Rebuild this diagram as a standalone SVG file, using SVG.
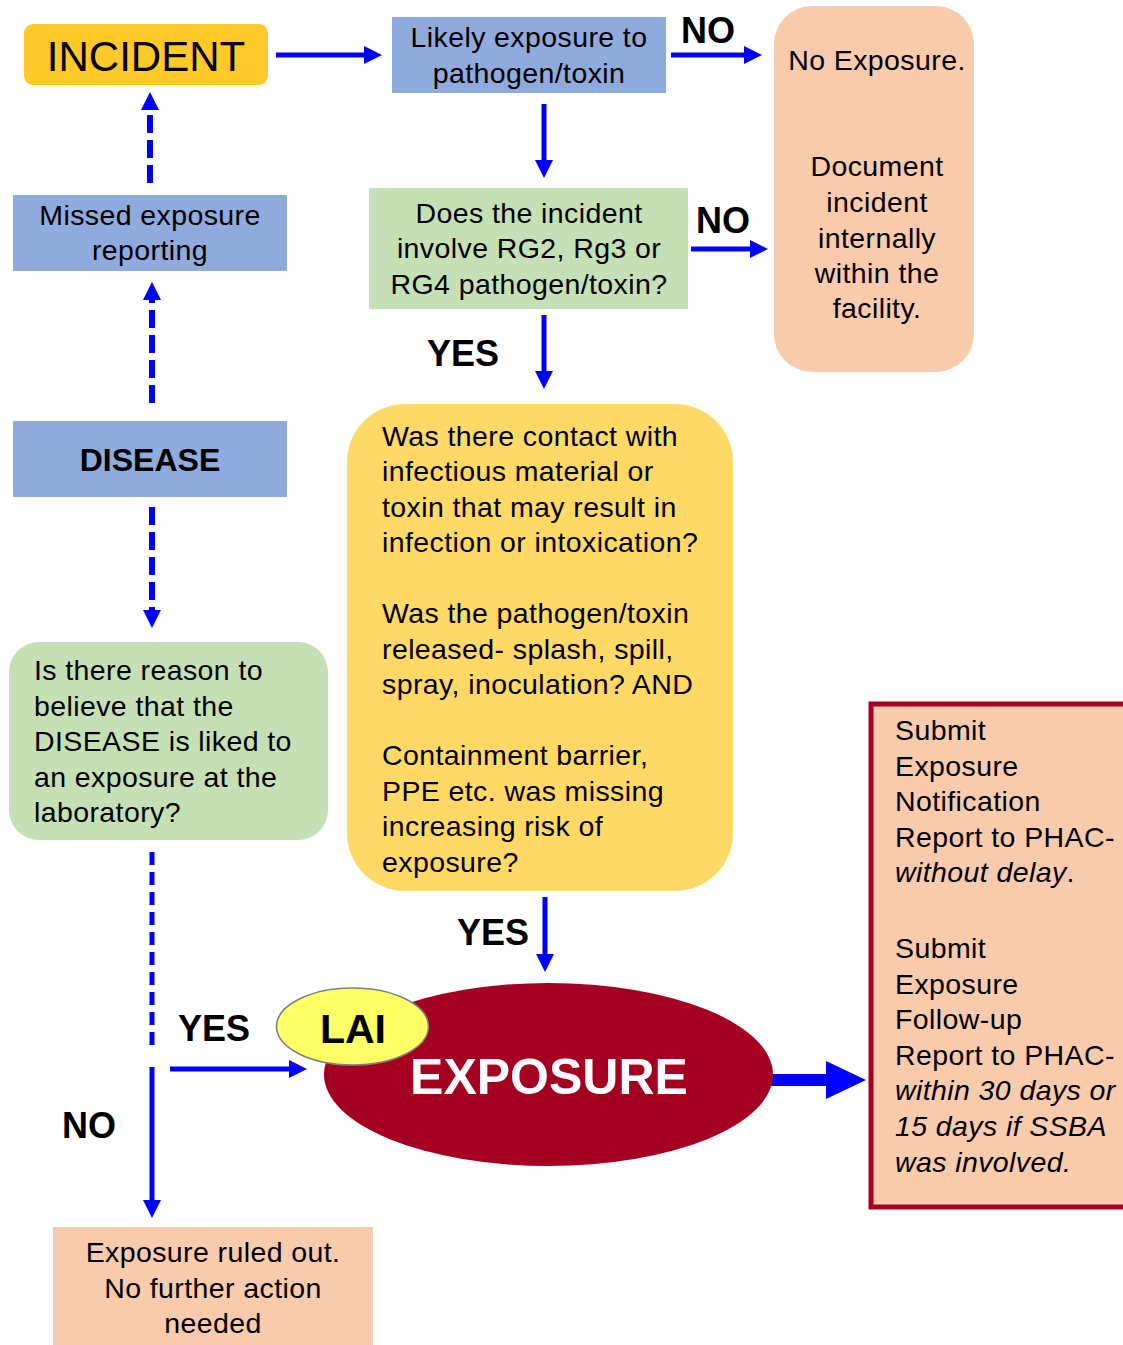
<svg xmlns="http://www.w3.org/2000/svg" width="1123" height="1345" viewBox="0 0 1123 1345">
<style>
  .t { font-family: "Liberation Sans", Arial, sans-serif; font-size: 28.5px; letter-spacing: 0.4px; fill: #000; }
  .c { text-anchor: middle; }
  .b { font-weight: bold; letter-spacing: 0; }
  .lbl { font-family: "Liberation Sans", Arial, sans-serif; font-size: 36px; font-weight: bold; fill: #000; }
  .blue { fill: #8FAADC; }
  .green { fill: #C5E0B4; }
  .peach { fill: #F8CBAD; }
  .arr { stroke: #0000FF; stroke-width: 5; fill: none; }
  .dash1 { stroke: #0000FF; stroke-width: 6; fill: none; stroke-dasharray: 18 7; }
  .dash2 { stroke: #0000FF; stroke-width: 5; fill: none; stroke-dasharray: 13 7; }
</style>
<defs>
  <marker id="ah" viewBox="0 0 18 18" refX="0" refY="9" markerWidth="18" markerHeight="18" markerUnits="userSpaceOnUse" orient="auto">
    <path d="M0,0 L18,9 L0,18 z" fill="#0000FF"/>
  </marker>
</defs>
<rect width="1123" height="1345" fill="#FFFFFF"/>

<g id="connectors">
  <line class="arr" x1="276" y1="55" x2="364" y2="55" marker-end="url(#ah)"/>
  <line class="arr" x1="671" y1="55" x2="744" y2="55" marker-end="url(#ah)"/>
  <line class="arr" x1="544" y1="104" x2="544" y2="160" marker-end="url(#ah)"/>
  <line class="arr" x1="691" y1="249" x2="750" y2="249" marker-end="url(#ah)"/>
  <line class="arr" x1="544" y1="315" x2="544" y2="371" marker-end="url(#ah)"/>
  <line class="arr" x1="545" y1="897" x2="545" y2="954" marker-end="url(#ah)"/>
  <line class="dash1" x1="150" y1="183" x2="150" y2="110" marker-end="url(#ah)"/>
  <line class="dash1" x1="152" y1="403" x2="152" y2="300" marker-end="url(#ah)"/>
  <line class="dash1" x1="152" y1="507" x2="152" y2="610" marker-end="url(#ah)"/>
  <line class="dash2" x1="152" y1="852" x2="152" y2="1050"/>
  <line class="arr" x1="152" y1="1067" x2="152" y2="1200" marker-end="url(#ah)"/>
  <line class="arr" x1="170" y1="1069" x2="289" y2="1069" marker-end="url(#ah)"/>
  <polygon points="759,1074 826,1074 826,1061 866,1080 826,1099 826,1086 759,1086" fill="#0000FF"/>
  <text class="lbl" x="681" y="43">NO</text>
  <text class="lbl" x="696" y="233">NO</text>
  <text class="lbl" x="427" y="366">YES</text>
  <text class="lbl" x="457" y="945">YES</text>
  <text class="lbl" x="178" y="1041">YES</text>
  <text class="lbl" x="62" y="1138">NO</text>
</g>

<g id="incident">
  <rect x="24" y="24" width="244" height="61" rx="9" fill="#FFC929"/>
  <text class="t c" x="146" y="71" style="font-size:42px;letter-spacing:0">INCIDENT</text>
</g>

<g id="likely">
  <rect class="blue" x="392" y="17" width="274" height="76"/>
  <text class="t c" x="529" y="47">Likely exposure to</text>
  <text class="t c" x="529" y="83">pathogen/toxin</text>
</g>

<g id="no-exposure">
  <rect class="peach" x="774" y="6" width="200" height="366" rx="38"/>
  <text class="t c" x="877" y="70">No Exposure.</text>
  <text class="t c" x="877" y="176">Document</text>
  <text class="t c" x="877" y="212">incident</text>
  <text class="t c" x="877" y="248">internally</text>
  <text class="t c" x="877" y="283">within the</text>
  <text class="t c" x="877" y="318">facility.</text>
</g>

<g id="involve">
  <rect class="green" x="369" y="188" width="319" height="121"/>
  <text class="t c" x="529" y="223">Does the incident</text>
  <text class="t c" x="529" y="258">involve RG2, Rg3 or</text>
  <text class="t c" x="529" y="294">RG4 pathogen/toxin?</text>
</g>

<g id="missed">
  <rect class="blue" x="13" y="195" width="274" height="76"/>
  <text class="t c" x="150" y="225">Missed exposure</text>
  <text class="t c" x="150" y="260">reporting</text>
</g>

<g id="disease">
  <rect class="blue" x="13" y="421" width="274" height="76"/>
  <text class="t c b" x="150" y="471" style="font-size:32px">DISEASE</text>
</g>

<g id="contact">
  <rect x="347" y="404" width="386" height="487" rx="58" fill="#FFD966"/>
  <text class="t" x="382" y="446">Was there contact with</text>
  <text class="t" x="382" y="481">infectious material or</text>
  <text class="t" x="382" y="517">toxin that may result in</text>
  <text class="t" x="382" y="552">infection or intoxication?</text>
  <text class="t" x="382" y="623">Was the pathogen/toxin</text>
  <text class="t" x="382" y="659">released- splash, spill,</text>
  <text class="t" x="382" y="694">spray, inoculation? AND</text>
  <text class="t" x="382" y="765">Containment barrier,</text>
  <text class="t" x="382" y="801">PPE etc. was missing</text>
  <text class="t" x="382" y="836">increasing risk of</text>
  <text class="t" x="382" y="872">exposure?</text>
</g>

<g id="linked">
  <rect class="green" x="9" y="642" width="319" height="198" rx="30"/>
  <text class="t" x="34" y="680">Is there reason to</text>
  <text class="t" x="34" y="716">believe that the</text>
  <text class="t" x="34" y="751">DISEASE is liked to</text>
  <text class="t" x="34" y="787">an exposure at the</text>
  <text class="t" x="34" y="822">laboratory?</text>
</g>

<g id="exposure">
  <ellipse cx="548.5" cy="1074.5" rx="224.5" ry="91.5" fill="#A50021"/>
  <text class="t c b" x="549" y="1094" style="font-size:50px;fill:#FFFFFF">EXPOSURE</text>
</g>

<g id="lai">
  <ellipse cx="352.5" cy="1026.5" rx="76" ry="38.5" fill="#FFFF66" stroke="#808080" stroke-width="1.5"/>
  <text class="t c b" x="353" y="1043" style="font-size:41px">LAI</text>
</g>

<g id="report">
  <rect class="peach" x="871" y="704" width="262" height="503" stroke="#A50021" stroke-width="5"/>
  <text class="t" x="895" y="740">Submit</text>
  <text class="t" x="895" y="776">Exposure</text>
  <text class="t" x="895" y="811">Notification</text>
  <text class="t" x="895" y="847">Report to PHAC-</text>
  <text class="t" x="895" y="882"><tspan font-style="italic">without delay</tspan>.</text>
  <text class="t" x="895" y="958">Submit</text>
  <text class="t" x="895" y="994">Exposure</text>
  <text class="t" x="895" y="1029">Follow-up</text>
  <text class="t" x="895" y="1065">Report to PHAC-</text>
  <text class="t" x="895" y="1100" font-style="italic">within 30 days or</text>
  <text class="t" x="895" y="1136" font-style="italic">15 days if SSBA</text>
  <text class="t" x="895" y="1172" font-style="italic">was involved.</text>
</g>

<g id="ruled-out">
  <rect class="peach" x="53" y="1227" width="320" height="118"/>
  <text class="t c" x="213" y="1262">Exposure ruled out.</text>
  <text class="t c" x="213" y="1298">No further action</text>
  <text class="t c" x="213" y="1333">needed</text>
</g>
</svg>
